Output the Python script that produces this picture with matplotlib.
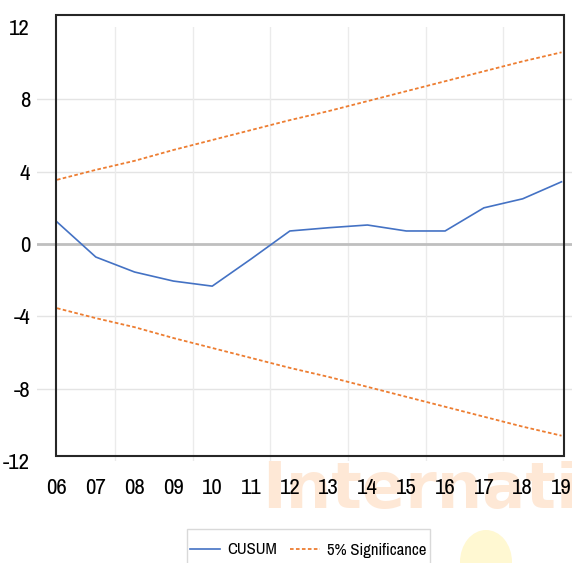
"""CUSUM stability test with 5% significance bounds."""

import matplotlib

matplotlib.use("Agg")
import matplotlib.pyplot as plt
from matplotlib import font_manager
from matplotlib.lines import Line2D
from matplotlib.patches import Ellipse, Rectangle

YEARS = ["06", "07", "08", "09", "10", "11", "12", "13", "14", "15", "16", "17", "18", "19"]
CUSUM = [1.22, -0.72, -1.55, -2.05, -2.33, -0.83, 0.72, 0.9, 1.05, 0.72, 0.72, 2.0, 2.5, 3.44]
UPPER_5PCT = [3.55, 4.1, 4.6, 5.2, 5.75, 6.3, 6.85, 7.35, 7.9, 8.45, 9.0, 9.55, 10.1, 10.6]
LOWER_5PCT = [-v for v in UPPER_5PCT]
Y_TICKS = [-12, -8, -4, 0, 4, 8, 12]

BLUE = "#4472C4"
ORANGE = "#ED7D31"
DASH = (0, (2.0, 1.3))

# the source uses a narrow Calibri-like face; take the first narrow family we have
NARROW_CANDIDATES = [
    "Liberation Sans Narrow", "Archivo Narrow", "PT Sans Narrow", "Pragati Narrow",
    "Roboto Condensed", "Open Sans Condensed", "Fira Sans Extra Condensed",
    "Fira Sans Condensed", "Barlow Condensed", "Sofia Sans Condensed",
    "Encode Sans Condensed", "Carlito", "Liberation Sans",
]
installed = {f.name for f in font_manager.fontManager.ttflist}
FONT = [n for n in NARROW_CANDIDATES if n in installed][:1] + ["DejaVu Sans"]
plt.rcParams["font.family"] = FONT

W, H = 572, 563
fig = plt.figure(figsize=(W / 100, H / 100), dpi=100)

# faint background watermark (sits behind the white plot area)
fig.text(262 / W, 1 - 508 / H, "Internatio", fontsize=46, fontweight="bold",
         family=["DejaVu Sans"], color="#FEE8D6", va="baseline", ha="left", zorder=-5)
fig.patches.append(Ellipse((430 / W, 1 - 2 / H), 80 / W, 30 / H, transform=fig.transFigure,
                           facecolor="#FFF3C8", edgecolor="none", zorder=-5))
fig.patches.append(Ellipse((530 / W, 1 - 4 / H), 90 / W, 26 / H, transform=fig.transFigure,
                           facecolor="#FDEBDD", edgecolor="none", zorder=-5))
fig.patches.append(Ellipse((486 / W, 1 - 562 / H), 52 / W, 64 / H, transform=fig.transFigure,
                           facecolor="#FFF8D2", edgecolor="none", zorder=-5))

ax = fig.add_axes((37 / W, 1 - 461 / H, 535 / W, 434 / H))
x = list(range(len(YEARS)))

ax.axhline(0, color="#BFBFBF", linewidth=2.0, zorder=1)
ax.plot(x, CUSUM, color=BLUE, linewidth=1.2, zorder=3)
ax.plot(x, UPPER_5PCT, color=ORANGE, linewidth=1.3, linestyle=DASH, zorder=3)
ax.plot(x, LOWER_5PCT, color=ORANGE, linewidth=1.3, linestyle=DASH, zorder=3)

ax.set_xlim(-0.515, 13.27)
ax.set_ylim(-12, 12)
ax.set_xticks(x)
ax.set_xticklabels(YEARS)
ax.set_xticks([v + 1.5 for v in range(0, 12, 2)], minor=True)
ax.set_yticks(Y_TICKS)
ax.set_yticklabels([str(v) for v in Y_TICKS])
ax.tick_params(axis="both", which="both", length=0, labelsize=16.5, colors="#000000")
ax.tick_params(axis="x", pad=12)
ax.tick_params(axis="y", pad=5)

# light grid: y at the labelled values (except the edges), x every two years
for v in Y_TICKS[1:-1]:
    if v != 0:
        ax.axhline(v, color="#E4E4E4", linewidth=1.0, zorder=0)
for v in ax.get_xticks(minor=True):
    ax.axvline(v, color="#EBEBEB", linewidth=1.0, zorder=0)
for spine in ax.spines.values():
    spine.set_visible(False)
ax.set_facecolor("none")

# plot-area box drawn separately, offset from the grid as in the source
fig.patches.append(Rectangle((56 / W, 1 - 456 / H), 508 / W, 441 / H, transform=fig.transFigure,
                             fill=False, edgecolor="#262626", linewidth=1.5, zorder=10))
# white fill under the plot so the watermark stays hidden there
fig.patches.append(Rectangle((37 / W, 1 - 461 / H), 535 / W, 461 / H, transform=fig.transFigure,
                             facecolor="white", edgecolor="none", zorder=-4))

# legend box runs off the bottom edge in the source
fig.patches.append(Rectangle((187 / W, 1 - 570 / H), 243 / W, 41 / H, transform=fig.transFigure,
                             facecolor="white", edgecolor="#D9D9D9", linewidth=1.0, zorder=2))
handles = [
    Line2D([0], [0], color=BLUE, linewidth=1.2, label="CUSUM"),
    Line2D([0], [0], color=ORANGE, linewidth=1.3, linestyle=DASH, label="5% Significance"),
]
leg = fig.legend(handles=handles, loc="center", bbox_to_anchor=(308 / W, 1 - 550 / H),
                 ncol=2, frameon=False, fontsize=12, handlelength=1.8,
                 handletextpad=0.45, columnspacing=0.75, borderpad=0, borderaxespad=0)
leg.set_zorder(3)

fig.savefig("out.png", dpi=100, facecolor="white")
